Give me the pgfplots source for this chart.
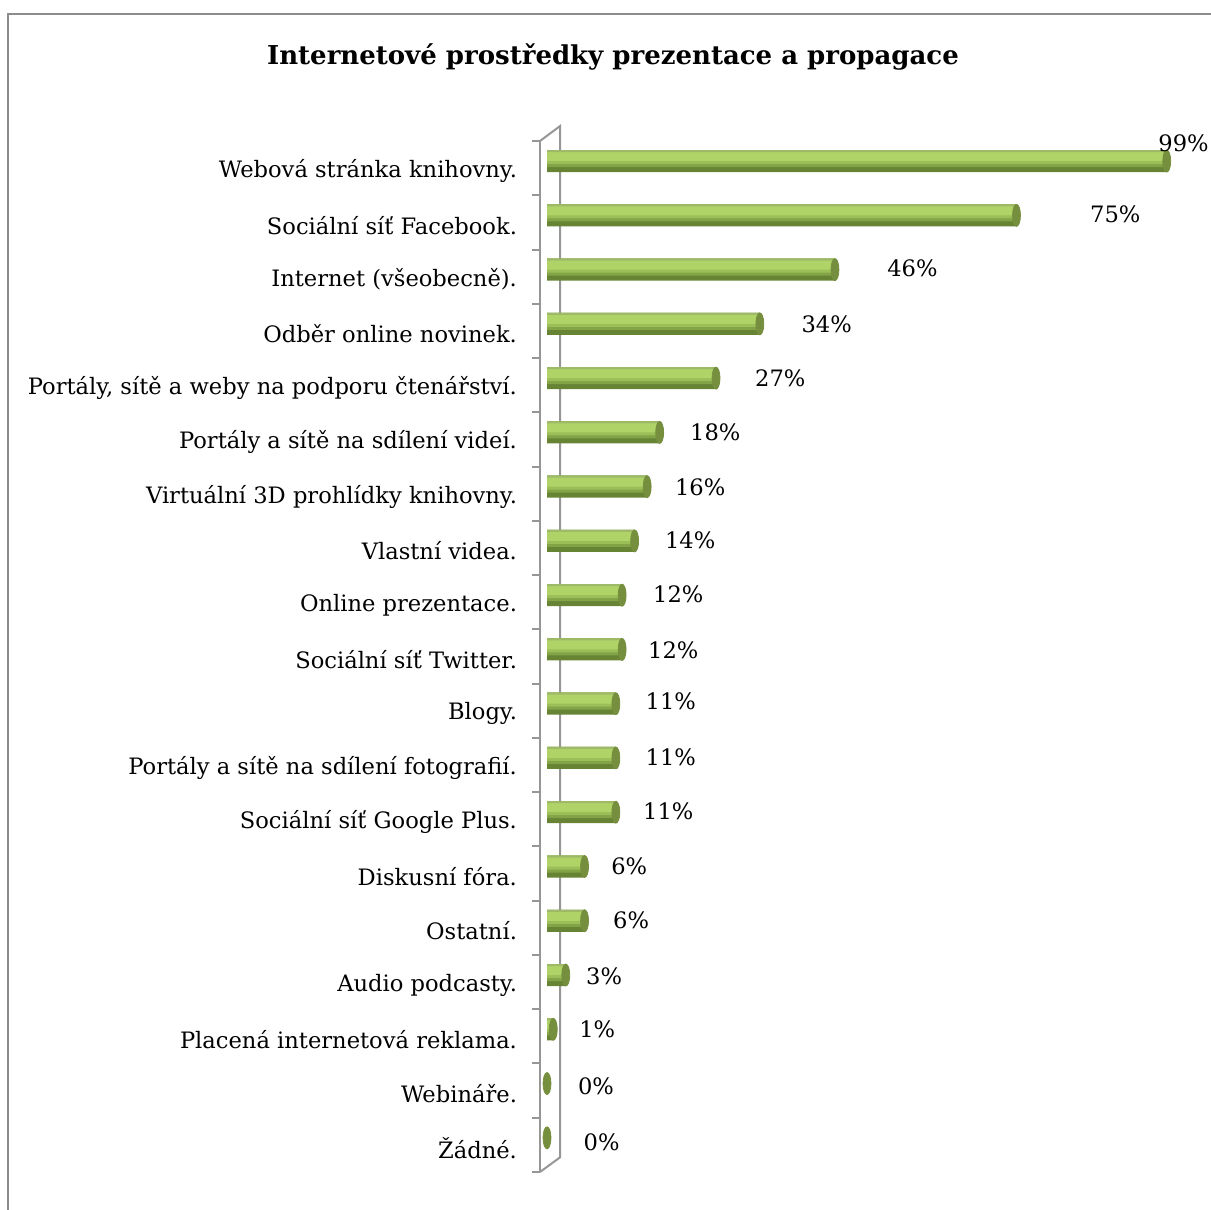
\documentclass[border=0pt]{standalone}
\usepackage{fontspec}
\setmainfont{DejaVu Serif}
\usepackage{pgfplots}
\usepackage{pgfplotstable}
\pgfplotsset{compat=1.18}
\definecolor{brd}{RGB}{140,140,140}
\definecolor{wall}{RGB}{150,150,150}
\definecolor{barA}{RGB}{102,132,52}
\definecolor{barB}{RGB}{130,163,70}
\definecolor{barC}{RGB}{155,190,88}
\definecolor{barD}{RGB}{176,211,104}
\definecolor{barE}{RGB}{158,186,104}
\definecolor{capc}{RGB}{118,143,62}

\pgfplotstableread{
y v
0 99
1 75
2 46
3 34
4 27
5 18
6 16
7 14
8 12
9 12
10 11
11 11
12 11
13 6
14 6
15 3
16 1
17 0
18 0
}\bars

\pgfplotstableread{
lx ly v
97.6 -0.33 99
86.7 0.98 75
54.3 1.98 46
40.6 3.0 34
33.2 4.0 27
22.8 5.0 18
20.4 6.02 16
18.8 6.98 14
16.9 7.98 12
16.1 9.02 12
15.7 9.95 11
15.7 10.98 11
15.3 11.98 11
10.2 13.0 6
10.5 14.0 6
6.2 15.02 3
5.1 16.0 1
4.9 17.05 0
5.8 18.09 0
}\labs

\begin{document}
\begin{tikzpicture}
\useasboundingbox (0,0) rectangle (605pt,605pt);
\draw[brd, line width=1pt] (4.2pt,0) -- (4.2pt,598pt) -- (606pt,598pt);
\node[font=\bfseries\fontsize{13}{16}\selectfont] at (306.5pt,576.5pt) {Internetové prostředky prezentace a propagace};
\begin{axis}[
  at={(270pt,19pt)}, anchor=south west,
  scale only axis, width=316.5pt, height=515.5pt,
  xmin=-1.12, xmax=100, ymin=-0.37, ymax=18.63, y dir=reverse,
  axis x line=none, axis y line*=left,
  axis line style={wall, line width=1pt},
  /pgf/number format/assume math mode=true,
  ytick={0,...,18},
  yticklabels={{Webová stránka knihovny.},{Sociální síť Facebook.},{Internet (všeobecně).},{Odběr online novinek.},{Portály, sítě a weby na podporu čtenářství.},{Portály a sítě na sdílení videí.},{Virtuální 3D prohlídky knihovny.},{Vlastní videa.},{Online prezentace.},{Sociální síť Twitter.},{Blogy.},{Portály a sítě na sdílení fotografií.},{Sociální síť Google Plus.},{Diskusní fóra.},{Ostatní.},{Audio podcasty.},{Placená internetová reklama.},{Webináře.},{Žádné.}},
  major tick length=0pt,
  yticklabel style={font=\fontsize{11.3}{13}\selectfont, yshift=-5pt, xshift=-8pt},
  extra y ticks={-0.37,0.63,1.63,2.63,3.63,4.63,5.63,6.63,7.63,8.63,9.63,10.63,11.63,12.63,13.63,14.63,15.63,16.63,17.63,18.63},
  extra y tick labels={},
  extra y tick style={major tick length=4pt, tick align=outside, tick style={wall, line width=1pt}},
  clip=false,
]
\draw[wall, line width=1pt] (axis cs:-1.12,-0.37) -- (axis cs:2.08,-0.645) -- (axis cs:2.08,18.36) -- (axis cs:-1.12,18.63);
% cylinder body as layered bands (dark bottom to light top)
\addplot[xbar, bar width=11pt, draw=none, fill=barA] table[x=v,y=y]{\bars};
\addplot[xbar, bar width=8.5pt, bar shift=1.25pt, draw=none, fill=barB] table[x=v,y=y]{\bars};
\addplot[xbar, bar width=7pt, bar shift=2pt, draw=none, fill=barC] table[x=v,y=y]{\bars};
\addplot[xbar, bar width=5pt, bar shift=2.5pt, draw=none, fill=barD] table[x=v,y=y]{\bars};
\addplot[xbar, bar width=1pt, bar shift=5pt, draw=none, fill=barE] table[x=v,y=y]{\bars};
% end caps
\addplot[only marks, color=capc, mark=*, mark size=5.5pt, mark options={xscale=0.36, fill=capc, draw=capc}] table[x=v,y=y]{\bars};
% data labels
\addplot[only marks, mark=*, mark size=0pt, mark options={draw=none, fill=none}, point meta=\thisrow{v},
  nodes near coords={\pgfmathprintnumber{\pgfplotspointmeta}\%},
  every node near coord/.append style={anchor=west, inner sep=0pt, font=\fontsize{11.3}{13}\selectfont, text=black}]
  table[x=lx,y=ly]{\labs};
\end{axis}
\end{tikzpicture}
\end{document}
